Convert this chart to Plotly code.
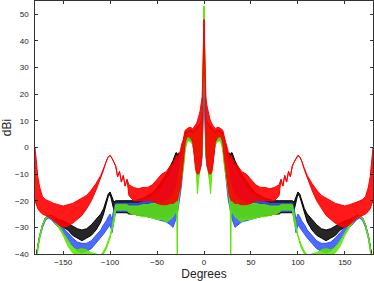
import plotly.graph_objects as go

# Half-pattern angle grid (deg); the pattern is symmetric about 0
DEG = [0, 0.5, 1, 1.5, 2, 3, 4, 5, 6, 7, 8, 9, 10, 11, 12, 14, 16, 18, 20, 21, 22, 23, 24, 25,
       26, 27, 28, 28.5, 29, 30, 33, 36, 40, 45, 50, 55, 60, 65, 70, 75, 80, 82, 84, 86, 88, 90,
       92, 94, 96, 98, 100, 102, 104, 107, 110, 115, 120, 125, 130, 135, 140, 145, 150, 155,
       160, 163, 166, 169, 172, 175, 177, 178, 179, 180]

# Upper / lower envelopes of the dense ripple for each curve (dBi)
RED_HI = [48, 40, 30, 24, 19, 16, 14, 12.5, 11, 10, 9, 8.5, 8, 7.5, 7, 7.5, 7.5, 7, 6.5, 5, 3, 2, 1, -1,
          -2, -3, -4, -3.5, -3, -4, -6, -7, -9, -10, -12, -14, -15, -15, -15.5, -15, -14, -12, -14.5, -10.5, -13, -9,
          -11, -7, -5.5, -4, -3, -3.5, -5, -8, -10.5, -13.5, -16, -18, -19, -20, -21, -21.5, -22, -21.5,
          -21, -20.5, -20, -19.5, -18.5, -15, -11, -8, -4, 0]
RED_LO = [48, 38, 22, 10, 0, -6, -8, -9.5, -10, -10, -9.5, -8, -5, -1, 2, 3.5, 4, 4, 2, -2, -5, -8, -12, -15,
          -16, -18, -19, -20, -20, -20, -21, -21, -21.5, -21.5, -21, -20, -20, -20, -20, -20, -18, -12, -14.5, -10.5, -13, -9,
          -11, -7, -5.5, -4, -3, -3.5, -5, -8.5, -11.5, -16, -20, -23, -25.5, -27, -28.5, -29.5, -30, -29,
          -27.5, -26.5, -26, -25.5, -25, -24, -23, -22, -21, -20]

BLACK_HI = [30, 24, 18, 14, 12, 10, 9, 8.5, 8, 8, 7.5, 7, 6.5, 6, 6, 6.5, 6.5, 6, 5.5, 4, 2, 0, -1, -2,
            -2.5, -2, -2.5, -3, -2, -2, -5, -7, -10, -12.5, -15, -17, -18, -19, -19.5, -20, -20, -20, -20, -20, -20, -20,
            -20, -20, -20.5, -18.5, -16.7, -17.5, -20, -23, -25, -27, -29, -30.5, -31, -30.5, -29.5, -28.5, -27.5, -27,
            -26, -25.5, -25.5, -26.5, -29, -33, -37, -39, -41, -43]
BLACK_LO = [30, 20, 10, 3, -2, -6, -7, -8, -9, -9, -8, -6, -3, 0, 2, 3, 3.5, 3.5, 1, -3, -6, -9, -12, -15,
            -17, -19, -21, -22, -23, -24, -25, -26, -26, -26, -26, -26, -26, -25.5, -25.5, -25, -25, -24.5, -24.5, -24.5, -24.5, -24.5,
            -24.5, -24.5, -23.5, -20.5, -17.5, -18.5, -21, -25, -28, -31, -33, -34, -35, -34, -33, -31, -30, -29,
            -27, -26.5, -26, -27, -29.5, -33.5, -37.5, -39.5, -41, -43]

BLUE_HI = [26, 22, 17, 13, 11, 9.5, 8.5, 8, 7.5, 7, 7, 6.5, 6, 5.5, 5.5, 6, 6, 5.5, 5, 3, 1, -1, -2, -3,
           -4, -4.5, -5, -5, -5.5, -6, -8, -10, -12, -15, -17, -18.5, -19.5, -20.5, -21, -21, -21, -21, -21, -21, -21, -21,
           -21, -21, -23, -27, -25, -26, -27.5, -29, -31, -33, -35, -36, -36, -35.5, -34, -32, -30, -28.5,
           -27, -26, -25.5, -26.5, -29, -33, -37, -40, -45, -50]
BLUE_LO = [26, 18, 9, 2, -3, -7, -8, -9, -10, -10, -9, -7, -3, -1, 1.5, 2.5, 3, 3, 0, -4, -8, -11, -14, -17,
           -20, -22, -24, -25, -26, -27, -30, -29, -28, -27.5, -27, -26.5, -26, -25, -25, -24.5, -24, -24, -24, -24, -24, -24,
           -24, -24, -27, -32, -29, -30, -31, -32.5, -34, -36, -38, -39, -39.5, -39, -37, -35, -32, -30,
           -28, -27, -26.5, -27.5, -30, -34, -38, -41, -45, -50]

GREEN_HI = [53, 42, 28, 18, 12, 9, 8, 7.5, 7, 6.5, 6.5, 6, 5.5, 5, 5, 5.5, 5.5, 5, 4, 2, 0, -2, -4, -6,
            -8, -10, -12, -14, -15, -16, -18, -19, -20, -20.5, -21, -21, -21.5, -21.5, -22, -22, -22, -21.5, -21.5, -21.5, -21.5, -21.5,
            -21.5, -21.5, -25, -30, -33, -35, -37, -39, -40.5, -40, -39.5, -38.5, -38, -38.5, -37.5, -35, -32, -29,
            -27, -26, -25.5, -26.5, -29, -33, -37, -40, -45, -50]
GREEN_LO = [53, 38, 18, 6, -2, -6, -8, -10, -13, -17.5, -10, -6, -3, -1, 1, 2, 2.5, 2, -1, -5, -8, -11, -13, -15,
            -17, -19, -24, -42, -25, -24, -26, -27, -28, -27, -27, -26.5, -26, -26, -25.5, -25, -24.5, -23.5, -23.5, -23.5, -23.5, -23.5,
            -23.5, -23.5, -28, -31, -34, -36, -38, -40, -41, -41, -41, -40.5, -40, -40.5, -39.5, -37, -33, -30,
            -27.5, -26.5, -26, -27, -29.5, -34, -38, -41, -45, -50]

X_TICKS = [-150, -100, -50, 0, 50, 100, 150]
Y_TICKS = [-40, -30, -20, -10, 0, 10, 20, 30, 40, 50]


def full(v):
    return list(v[::-1]) + list(v[1:])


deg_full = [-d for d in DEG[::-1]] + DEG[1:]

series = [
    ("rgb(0,0,0)", "rgba(0,0,0,0.85)", BLACK_LO, BLACK_HI),
    ("rgb(46,82,255)", "rgba(46,82,255,0.85)", BLUE_LO, BLUE_HI),
    ("rgb(92,230,0)", "rgba(92,230,0,0.85)", GREEN_LO, GREEN_HI),
    ("rgb(255,0,0)", "rgba(255,0,0,0.9)", RED_LO, RED_HI),
]

fig = go.Figure()
for color, fillc, lo, hi in series:
    fig.add_trace(go.Scatter(x=deg_full, y=full(lo), mode="lines",
                             line=dict(color=color, width=1), showlegend=False, hoverinfo="skip"))
    fig.add_trace(go.Scatter(x=deg_full, y=full(hi), mode="lines", fill="tonexty",
                             fillcolor=fillc, line=dict(color=color, width=1),
                             showlegend=False, hoverinfo="skip"))

axis_common = dict(showgrid=False, zeroline=False, showline=True, linecolor="black", linewidth=0.8,
                   mirror="allticks", ticks="inside", ticklen=3, tickcolor="black", tickwidth=0.8,
                   tickfont=dict(family="Liberation Sans, Arial", size=8, color="#222"))

fig.update_layout(
    width=374, height=281,
    margin=dict(l=35, r=1, t=1, b=27),
    paper_bgcolor="white", plot_bgcolor="white",
    hovermode=False,
    xaxis=dict(range=[-180, 180], tickvals=X_TICKS, ticklabelstandoff=1,
               title=dict(text="Degrees", font=dict(family="Liberation Sans, Arial", size=12, color="#222"),
                          standoff=2),
               **axis_common),
    yaxis=dict(range=[-40, 55], tickvals=Y_TICKS, ticklabelstandoff=4,
               title=dict(text="dBi", font=dict(family="Liberation Sans, Arial", size=12, color="#222"),
                          standoff=2),
               **axis_common),
)

fig.write_html("out.html", config={"displayModeBar": False, "staticPlot": True},
               post_script="document.body.style.margin='0';document.body.style.overflow='hidden';")
